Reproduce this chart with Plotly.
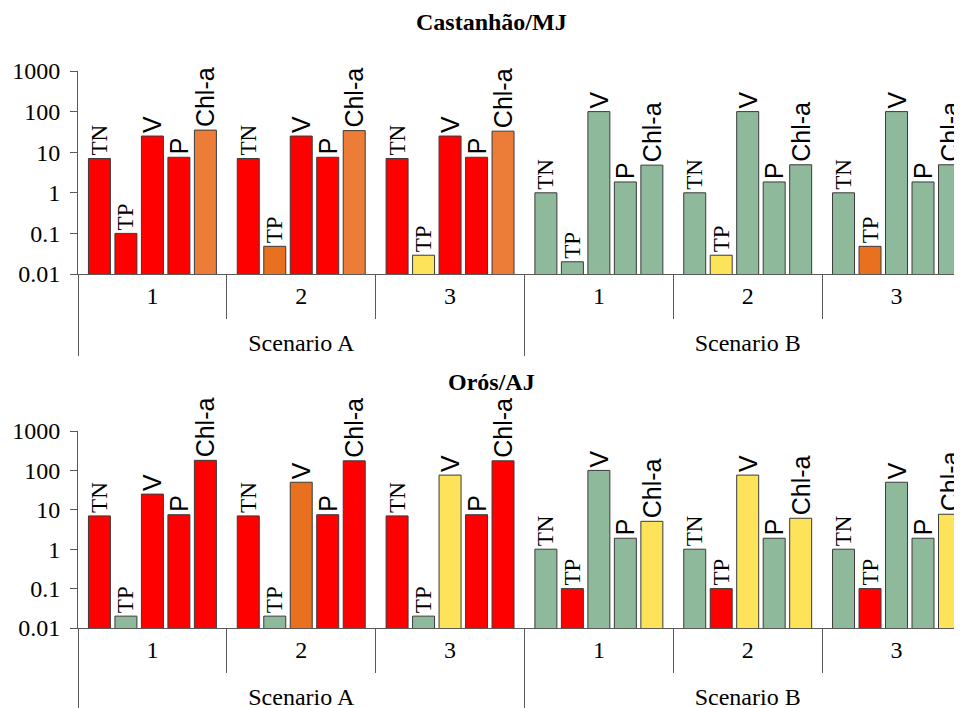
import plotly.graph_objects as go

# ---------------- data ----------------
scenarios = ["Scenario A", "Scenario A", "Scenario A", "Scenario B", "Scenario B", "Scenario B"]
runs = ["1", "2", "3", "1", "2", "3"]
variables = ["TN", "TP", "V", "P", "Chl-a"]
y_tickvals = [0.01, 0.1, 1, 10, 100, 1000]
y_ticktext = ["0.01", "0.1", "1", "10", "100", "1000"]

# Castanhão/MJ
cas_TN = [7.0, 7.0, 7.0, 1.0, 1.0, 1.0]
cas_TP = [0.1, 0.048, 0.029, 0.02, 0.029, 0.048]
cas_V = [25, 25, 25, 100, 100, 100]
cas_P = [7.5, 7.5, 7.5, 1.85, 1.85, 1.85]
cas_Chl = [35, 34, 33, 4.8, 4.9, 4.9]
cas_TN_cls = ["R", "R", "R", "G", "G", "G"]
cas_TP_cls = ["R", "O", "Y", "G", "Y", "O"]
cas_V_cls = ["R", "R", "R", "G", "G", "G"]
cas_P_cls = ["R", "R", "R", "G", "G", "G"]
cas_Chl_cls = ["OG", "OG", "OG", "G", "G", "G"]

# Orós/AJ
oro_TN = [7.0, 7.0, 7.0, 1.0, 1.0, 1.0]
oro_TP = [0.02, 0.02, 0.02, 0.1, 0.1, 0.1]
oro_V = [25, 50, 76, 100, 76, 50]
oro_P = [7.5, 7.5, 7.5, 1.9, 1.9, 1.9]
oro_Chl = [180, 175, 175, 5.1, 6.1, 7.7]
oro_TN_cls = ["R", "R", "R", "G", "G", "G"]
oro_TP_cls = ["G", "G", "G", "R", "R", "R"]
oro_V_cls = ["R", "O", "Y", "G", "Y", "G"]
oro_P_cls = ["R", "R", "R", "G", "G", "G"]
oro_Chl_cls = ["R", "R", "R", "Y", "Y", "Y"]

charts = [
    ("Castanhão/MJ", [cas_TN, cas_TP, cas_V, cas_P, cas_Chl],
     [cas_TN_cls, cas_TP_cls, cas_V_cls, cas_P_cls, cas_Chl_cls]),
    ("Orós/AJ", [oro_TN, oro_TP, oro_V, oro_P, oro_Chl],
     [oro_TN_cls, oro_TP_cls, oro_V_cls, oro_P_cls, oro_Chl_cls]),
]

# ---------------- style ----------------
COLORS = {"R": "#FF0000", "O": "#E8701E", "Y": "#FDE35A", "G": "#8FB99B", "OG": "#EC7D38"}
SERIF = "Liberation Serif, Times New Roman, serif"
SANS = "Liberation Sans, Arial, sans-serif"
LABEL_FONT = {"TN": (SERIF, 23), "TP": (SERIF, 23), "V": (SANS, 25), "P": (SANS, 25),
              "Chl-a": (SANS, 25)}
AXC = "#595959"

# page is offset by the default 8px body margin -> figure is 8px smaller
OFF = 8
W, H = 962 - OFF, 708 - OFF

def py(page_y):
    return 1 - (page_y - OFF) / H

def px(page_x):
    return (page_x - OFF) / W

SPAN = '<span style="font-size:24px">%s</span>'
outer_labels = ["<br>" + SPAN % s for s in scenarios]
inner_labels = [SPAN % r for r in runs]

fig = go.Figure()
ydomains = [[py(274), py(71)], [py(628), py(431)]]
title_y = [py(22), py(382)]

for k, (title, series, classes) in enumerate(charts):
    xa = "x" if k == 0 else "x2"
    ya = "y" if k == 0 else "y2"
    for var, vals, cls in zip(variables, series, classes):
        fig.add_trace(go.Bar(
            x=[outer_labels, inner_labels], y=vals, xaxis=xa, yaxis=ya,
            offsetgroup=var, name=var, showlegend=False,
            marker=dict(color=[COLORS[c] for c in cls],
                        line=dict(color="#3a3a3a", width=1)),
            hoverinfo="y",
        ))
        fam, size = LABEL_FONT[var]
        lf = dict(family=fam, size=size, color="black")
        fig.add_trace(go.Bar(
            x=[outer_labels, inner_labels], y=vals, xaxis=xa, yaxis=ya,
            offsetgroup=var, name=var, showlegend=False,
            marker=dict(color="rgba(0,0,0,0)", line=dict(width=0)),
            text=[var] * len(vals), textposition="outside", textangle=-90,
            constraintext="none", cliponaxis=False,
            textfont=lf, outsidetextfont=lf,
            hoverinfo="skip",
        ))
    fig.add_annotation(text="<b>%s</b>" % title, xref="paper", yref="paper",
                       x=px(492), y=title_y[k], xanchor="center", yanchor="middle",
                       showarrow=False, font=dict(family=SERIF, size=24, color="black"))

xcommon = dict(type="multicategory", domain=[px(78), 1], range=[-0.5, 5.44],
               automargin=False,
               showline=True, linecolor=AXC, linewidth=1,
               ticks="outside", ticklen=44, tickcolor=AXC, tickwidth=1,
               showdividers=True, dividercolor=AXC, dividerwidth=1,
               showgrid=False, zeroline=False, ticklabelstandoff=6,
               tickfont=dict(family=SERIF, size=19, color="black"))
ycommon = dict(type="log", range=[-2, 3], tickvals=y_tickvals, ticktext=y_ticktext,
               automargin=False,
               showline=True, linecolor=AXC, linewidth=1,
               ticks="outside", ticklen=7, tickcolor=AXC, ticklabelstandoff=5,
               showgrid=False, zeroline=False,
               tickfont=dict(family=SERIF, size=24, color="black"))

fig.update_layout(
    width=W, height=H,
    margin=dict(l=0, r=0, t=0, b=0, pad=0),
    paper_bgcolor="white", plot_bgcolor="white",
    barmode="group", bargap=0.11, bargroupgap=0.17,
    xaxis=dict(xcommon, anchor="y"),
    yaxis=dict(ycommon, domain=ydomains[0], anchor="x"),
    xaxis2=dict(xcommon, anchor="y2"),
    yaxis2=dict(ycommon, domain=ydomains[1], anchor="x2"),
)

fig.write_html("out.html")
